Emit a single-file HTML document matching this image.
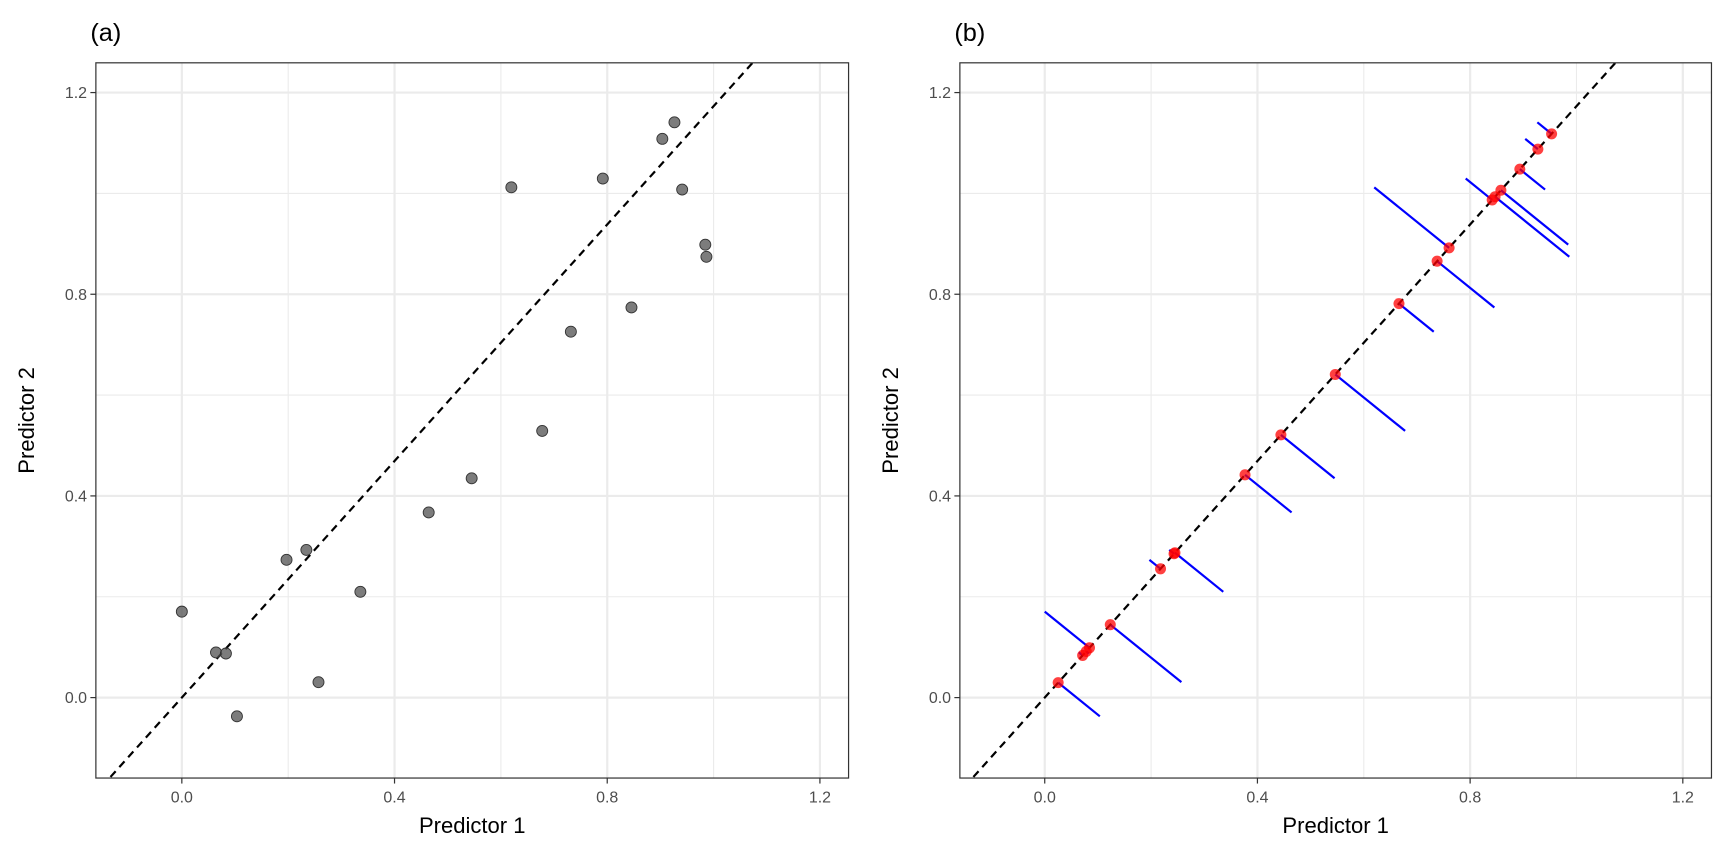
<!DOCTYPE html>
<html><head><meta charset="utf-8"><style>
html,body{margin:0;padding:0;background:#fff;overflow:hidden;}
svg{display:block;}
svg text{font-family:"Liberation Sans",Arial,sans-serif;}
</style></head><body>
<svg id="s" width="1728" height="864" viewBox="0 0 1568 784" xmlns="http://www.w3.org/2000/svg"></svg>
<script>
const s=document.getElementById('s');
let h='';
const pts=[[165,555],[196,592],[205,593],[215,650],[260,508],[278,499],[289,619],[327,537],[389,465],[428,434],[464,170],[492,391],[518,301],[547,162],[573,279],[601,126],[612,111],[619,172],[640,222],[641,233]];
const data=pts.map(p=>[(p[0]-165)/482.5,(633-p[1])/457.5]);
const m=1.173;const L=Math.hypot(1,m);const ux=1/L,uy=m/L;
function panel(ox,px0,px1,lab,proj){
  const X=v=>ox+v*482.5, Y=v=>633-v*457.5;
  const py0=57,py1=706;
  h+=`<rect x="${px0}" y="${py0}" width="${px1-px0}" height="${py1-py0}" fill="#fff"/>`;
  [0.2,0.6,1.0].forEach(v=>{h+=`<line x1="${X(v)}" y1="${py0}" x2="${X(v)}" y2="${py1}" stroke="#ebebeb" stroke-width="1"/>`;
    h+=`<line x1="${px0}" y1="${Y(v)}" x2="${px1}" y2="${Y(v)}" stroke="#ebebeb" stroke-width="1"/>`;});
  [0,0.4,0.8,1.2].forEach(v=>{h+=`<line x1="${X(v)}" y1="${py0}" x2="${X(v)}" y2="${py1}" stroke="#ebebeb" stroke-width="2"/>`;
    h+=`<line x1="${px0}" y1="${Y(v)}" x2="${px1}" y2="${Y(v)}" stroke="#ebebeb" stroke-width="2"/>`;
    h+=`<line x1="${X(v)}" y1="${py1}" x2="${X(v)}" y2="${py1+5}" stroke="#333" stroke-width="1.1"/>`;
    h+=`<line x1="${px0-5}" y1="${Y(v)}" x2="${px0}" y2="${Y(v)}" stroke="#333" stroke-width="1.1"/>`;
    h+=`<text x="${X(v)}" y="${py1+22}" font-size="14.5" fill="#4d4d4d" text-anchor="middle">${v.toFixed(1)}</text>`;
    h+=`<text x="${px0-8}" y="${Y(v)+5}" font-size="14.5" fill="#4d4d4d" text-anchor="end">${v.toFixed(1)}</text>`;});
  h+=`<clipPath id="c${ox}"><rect x="${px0}" y="${py0}" width="${px1-px0}" height="${py1-py0}"/></clipPath><g clip-path="url(#c${ox})">`;
  const proj1=d=>{const t=d[0]*ux+d[1]*uy;return [t*ux,t*uy];};
  if(proj){
    data.forEach(d=>{const p=proj1(d);h+=`<line x1="${X(d[0])}" y1="${Y(d[1])}" x2="${X(p[0])}" y2="${Y(p[1])}" stroke="#0000ff" stroke-width="2"/>`;});
  }
  h+=`<line x1="${X(-0.5)}" y1="${Y(-0.5*m)}" x2="${X(1.5)}" y2="${Y(1.5*m)}" stroke="#000" stroke-width="2" stroke-dasharray="7,5"/>`;
  if(proj){
    data.forEach(d=>{const p=proj1(d);h+=`<circle cx="${X(p[0])}" cy="${Y(p[1])}" r="5" fill="rgba(255,0,0,0.75)"/>`;});
  } else {
    data.forEach(d=>{h+=`<circle cx="${X(d[0])}" cy="${Y(d[1])}" r="5" fill="rgba(80,80,80,0.75)" stroke="#333" stroke-width="0.8"/>`;});
  }
  h+=`</g><rect x="${px0}" y="${py0}" width="${px1-px0}" height="${py1-py0}" fill="none" stroke="#333" stroke-width="1.1"/>`;
  h+=`<text x="${(px0+px1)/2}" y="${py1+50}" font-size="20" text-anchor="middle" fill="#000">Predictor 1</text>`;
  h+=`<text transform="translate(${px0-56},${(py0+py1)/2}) rotate(-90)" font-size="20" text-anchor="middle" fill="#000">Predictor 2</text>`;
  h+=`<text x="${px0-5}" y="37" font-size="23" fill="#000">${lab}</text>`;
}
panel(165,87,770,'(a)',false);
panel(948,871,1553,'(b)',true);
s.innerHTML=h;
</script>
</body></html>
